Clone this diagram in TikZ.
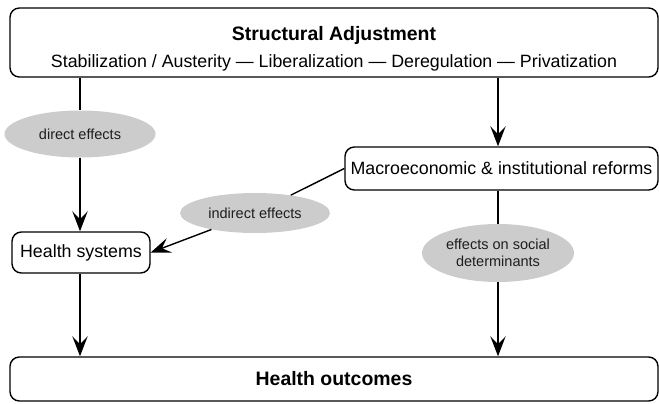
\documentclass[tikz,border=0pt]{standalone}
\usepackage{fontspec}
\setmainfont{Liberation Sans}
\usetikzlibrary{arrows.meta,shapes.geometric}
\definecolor{bubblegray}{RGB}{204,204,204}
\definecolor{inkgray}{RGB}{30,30,30}
\tikzset{
>={Stealth[length=6mm,width=4.6mm,inset=2.4mm]},
  box/.style={
    rectangle,
    rounded corners=8pt,
    draw=black, line width=1.2pt,
    fill=white,
    inner sep=0pt,
    text centered,
    font=\fontsize{15.2}{18}\selectfont},
  bubble/.style={
    ellipse,
    fill=bubblegray,
    inner sep=0pt,
    align=center,
    text=inkgray,
    font=\fontsize{12.4}{14.5}\selectfont},
  line/.style={draw, line width=1.2pt},
}
\begin{document}
\begin{tikzpicture}

		\useasboundingbox (0,0) rectangle (19.77,-12.09);

		% boxes
		\node[box, minimum width=19.44cm, minimum height=2.07cm, align=center,
		      font=\fontsize{15.2}{23}\selectfont] (adjust) at (10.02,-1.275)
		      {\rule{0pt}{22pt}{\fontsize{16.6}{23}\selectfont\bfseries Structural Adjustment}\\Stabilization / Austerity --- Liberalization --- Deregulation --- Privatization};
		\node[box, minimum width=9.39cm, minimum height=1.29cm] (reforms) at (15.045,-5.055) {Macroeconomic \& institutional reforms};
		\node[box, minimum width=4.14cm, minimum height=1.23cm] (systems) at (2.43,-7.575) {Health systems};
		\node[box, minimum width=19.44cm, minimum height=1.32cm, font=\fontsize{16.6}{18}\selectfont\bfseries] (outcomes) at (10.02,-11.37) {Health outcomes};

		% effects
		\node[bubble, minimum width=4.53cm, minimum height=1.41cm] (direct) at (2.4,-4.02) {direct effects};
		\node[bubble, minimum width=4.5cm, minimum height=1.2cm] (indirect) at (7.65,-6.39) {indirect effects};
		\node[bubble, minimum width=4.56cm, minimum height=1.74cm] (social) at (14.94,-7.59) {effects on social\\determinants};

		% connectors
		\draw[line] (adjust.south -| direct) -- (direct);
		\draw[line, ->] (direct) -- (systems.north -| direct);
		\draw[line, ->] (adjust.south -| social) -- (reforms.north -| social);
		\draw[line] (reforms.west) -- (indirect);
		\draw[line, ->] (indirect) -- (systems.east);
		\draw[line] (reforms.south -| social) -- (social);
		\draw[line, ->] (social) -- (outcomes.north -| social);
		\draw[line, ->] (systems.south -| direct) -- (outcomes.north -| direct);

	\end{tikzpicture}
\end{document}
